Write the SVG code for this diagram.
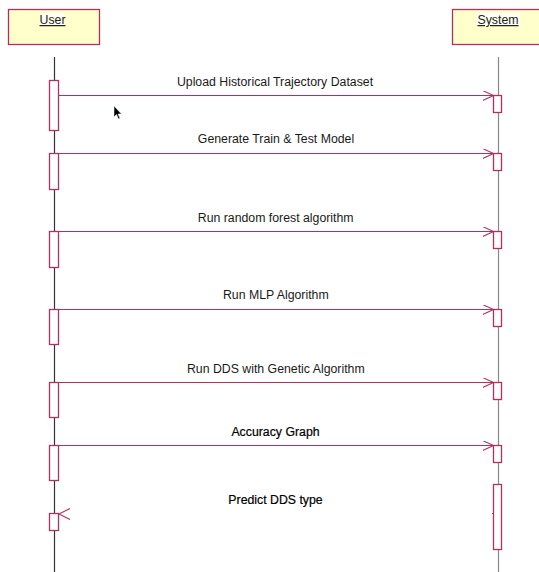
<svg xmlns="http://www.w3.org/2000/svg" width="539" height="572" viewBox="0 0 539 572">
<style>
.obj{fill:#ffffcc;stroke:#b03060;stroke-width:1.3}
.act{fill:#ffffff;stroke:#b03060;stroke-width:1.3}
.msg{stroke:#b03060;stroke-width:1.1;fill:none}
.lbl{font-family:"Liberation Sans",Arial,sans-serif;font-size:12.3px;fill:#1a1a1a;text-anchor:middle}
.bold{fill:#000;stroke:#000;stroke-width:0.2}
.hdr{font-family:"Liberation Sans",Arial,sans-serif;font-size:12.3px;fill:#222;text-anchor:middle;text-decoration:underline}
</style>
<defs>
<marker id="open" markerUnits="userSpaceOnUse" markerWidth="14" markerHeight="12" refX="11" refY="5" orient="auto">
<path d="M0,0 L11,5 L0,10" fill="none" stroke="#b03060" stroke-width="1.1"/>
</marker>
</defs>
<rect width="539" height="572" fill="#ffffff"/>
<g id="user">
<rect class="obj" x="8.5" y="9.5" width="91" height="35"/>
<rect x="40" y="13" width="24" height="12" fill="#fffff4"/>
<text class="hdr" x="52.5" y="24">User</text>
<line x1="54.5" y1="57" x2="54.5" y2="572" stroke="#333" stroke-width="1.2"/>
<rect class="act" x="49.5" y="80.5" width="9" height="50"/>
<rect class="act" x="49.5" y="153.5" width="9" height="36"/>
<rect class="act" x="49.5" y="231.5" width="9" height="36"/>
<rect class="act" x="49.5" y="309.5" width="9" height="35"/>
<rect class="act" x="49.5" y="382.5" width="9" height="35"/>
<rect class="act" x="49.5" y="445.5" width="9" height="35"/>
<rect class="act" x="49.5" y="513.5" width="9" height="17"/>
</g>
<g id="system">
<rect class="obj" x="452.5" y="9.5" width="91" height="35"/>
<rect x="476" y="13" width="44" height="12" fill="#fffff4"/>
<text class="hdr" x="498" y="24">System</text>
<line x1="498.5" y1="57" x2="498.5" y2="572" stroke="#888" stroke-width="1.2"/>
<rect class="act" x="493.5" y="95.5" width="8" height="17"/>
<rect class="act" x="493.5" y="153.5" width="8" height="17"/>
<rect class="act" x="493.5" y="231.5" width="8" height="17"/>
<rect class="act" x="493.5" y="309.5" width="8" height="17"/>
<rect class="act" x="493.5" y="382.5" width="8" height="17"/>
<rect class="act" x="493.5" y="445.5" width="8" height="17"/>
<rect class="act" x="493.5" y="484.5" width="8" height="65"/>
</g>
<g id="connectors">
<line class="msg" x1="58.5" y1="95.5" x2="493.5" y2="95.5" marker-end="url(#open)"/>
<line class="msg" x1="58.5" y1="153.5" x2="493.5" y2="153.5" marker-end="url(#open)"/>
<line class="msg" x1="58.5" y1="231.5" x2="493.5" y2="231.5" marker-end="url(#open)"/>
<line class="msg" x1="58.5" y1="309.5" x2="493.5" y2="309.5" marker-end="url(#open)"/>
<line class="msg" x1="58.5" y1="382.5" x2="493.5" y2="382.5" marker-end="url(#open)"/>
<line class="msg" x1="58.5" y1="445.5" x2="493.5" y2="445.5" marker-end="url(#open)"/>
<polyline class="msg" points="70,508.5 59,514 70,519.5"/>
<line class="msg" x1="492" y1="513.5" x2="493.5" y2="513.5"/>
</g>
<g id="labels">
<text class="lbl" x="275" y="86">Upload Historical Trajectory Dataset</text>
<text class="lbl" x="276" y="143">Generate Train &amp; Test Model</text>
<text class="lbl" x="275.7" y="221.5">Run random forest algorithm</text>
<text class="lbl" x="275.8" y="299">Run MLP Algorithm</text>
<text class="lbl" x="275.8" y="373">Run DDS with Genetic Algorithm</text>
<text class="lbl bold" x="275.5" y="435.5">Accuracy Graph</text>
<text class="lbl bold" x="275.5" y="504">Predict DDS type</text>
</g>
<path d="M114,106 L114,117 L116.5,114.5 L118.5,119 L120,118.3 L118,114 L121.5,114 Z" fill="#000" stroke="#fff" stroke-width="0.5"/>
</svg>
